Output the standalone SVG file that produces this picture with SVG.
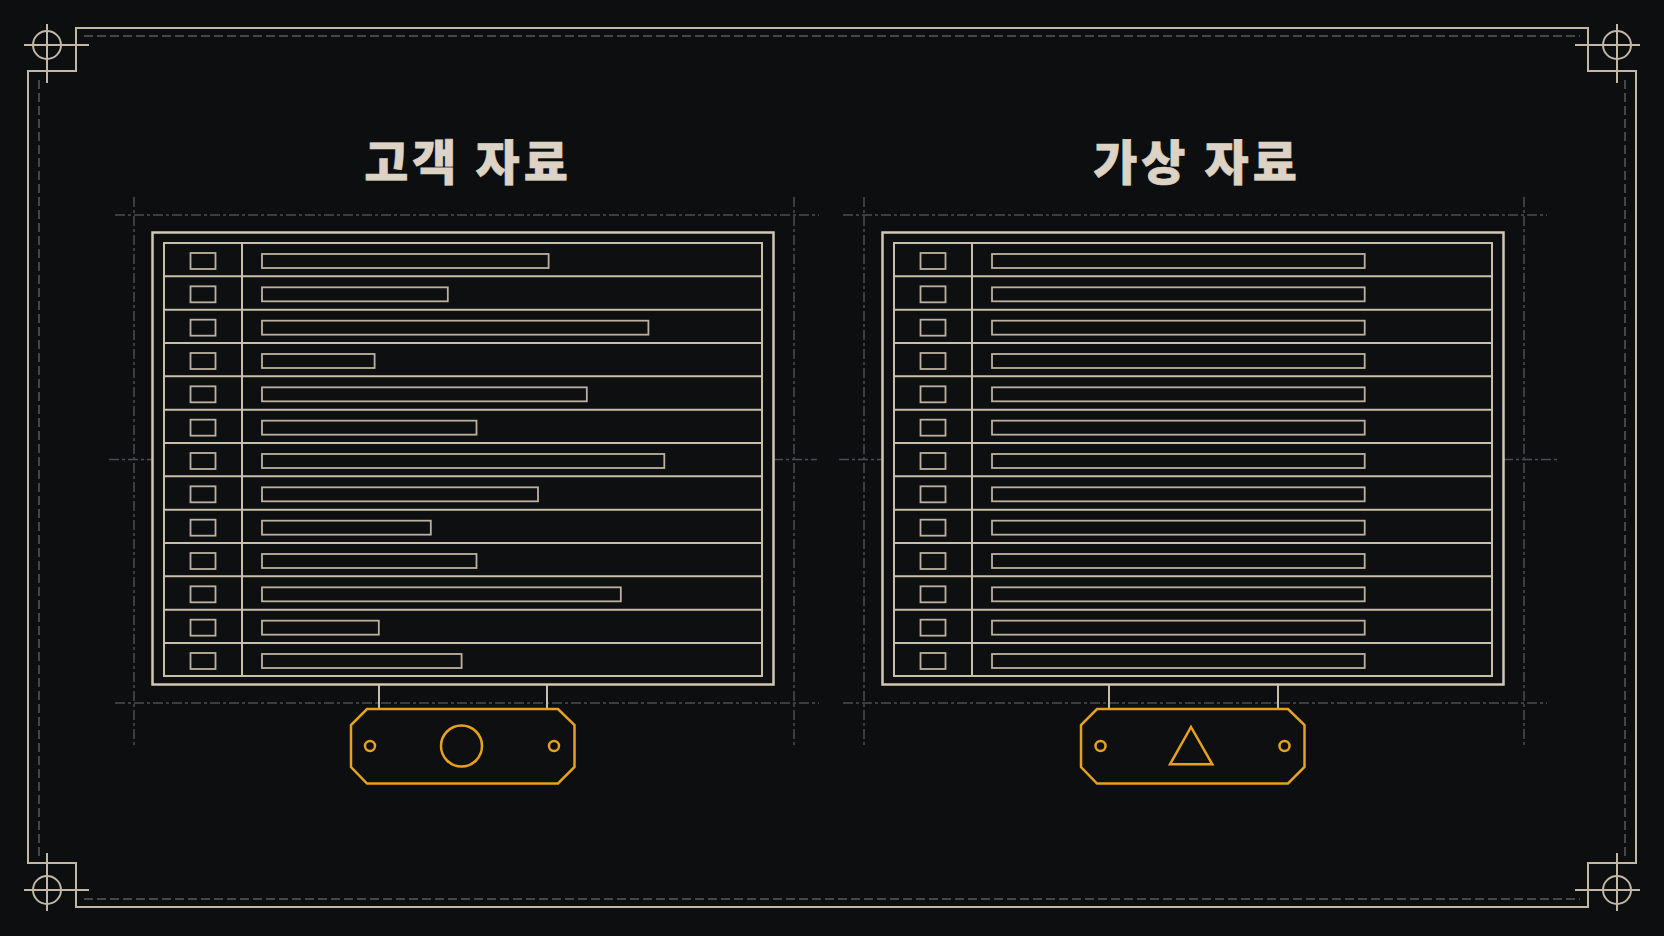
<svg xmlns="http://www.w3.org/2000/svg" width="1664" height="936" viewBox="0 0 1664 936">
  <style>
    .frame{fill:none;stroke:#c2b7a4;stroke-width:2}
    .dash{fill:none;stroke:#5a5a5a;stroke-width:1.5;stroke-dasharray:9 4}
    .guide{fill:none;stroke:#4d4d4f;stroke-width:1.5;stroke-dasharray:10 3 3 3}
    .cross{fill:none;stroke:#c2b7a4;stroke-width:2}
    .tOuter{fill:#0e0f11;stroke:#d2c7b5;stroke-width:2.5}
    .tLine{fill:none;stroke:#c9bea9;stroke-width:2}
    .cell{fill:none;stroke:#bcb19e;stroke-width:1.8}
    .badge{fill:#0e0f11;stroke:#e6a11f;stroke-width:2.5}
    .conn{fill:none;stroke:#c9bea9;stroke-width:2}
    .title{font-family:"Noto Sans CJK KR","Noto Sans",sans-serif;font-weight:900;font-size:48px;letter-spacing:4px;fill:#dcd3c4;text-anchor:middle;stroke:#dcd3c4;stroke-width:0.6}
  </style>
  <rect width="1664" height="936" fill="#0d0e10"/>

  <g id="border">
    <path class="frame" d="M76,28 H1588 V71 H1636 V863 H1588 V907 H76 V863 H28 V71 H76 Z"/>
    <line class="dash" x1="84" y1="36" x2="1580" y2="36"/>
    <line class="dash" x1="84" y1="899" x2="1580" y2="899"/>
    <line class="dash" x1="39" y1="80" x2="39" y2="856"/>
    <line class="dash" x1="1625" y1="80" x2="1625" y2="856"/>
    <g class="cross">
      <circle cx="47" cy="45" r="14"/><path d="M24,45 H89 M47,24 V83"/>
      <circle cx="1617" cy="45" r="14"/><path d="M1575,45 H1640 M1617,24 V83"/>
      <circle cx="47" cy="890" r="14"/><path d="M24,890 H89 M47,853 V911"/>
      <circle cx="1617" cy="890" r="14"/><path d="M1575,890 H1640 M1617,853 V911"/>
    </g>
  </g>

  <g id="guides">
    <path class="guide" d="M115,215 H819 M115,703 H819 M134,197 V745 M794,197 V745 M109,459.5 H152 M773,459.5 H817"/>
    <path class="guide" d="M843,215 H1547 M843,703 H1547 M864,197 V745 M1524,197 V745 M839,459.5 H883 M1503,459.5 H1560"/>
  </g>

  <text id="title-left" class="title" x="468" y="180">고객 자료</text>
  <text id="title-right" class="title" x="1197" y="180">가상 자료</text>

  <g id="table-left">
    <rect class="tOuter" x="152.5" y="232.5" width="621" height="452"/>
    <rect class="tLine" x="164" y="243" width="598" height="433"/>
    <path class="tLine" d="M242,243 V676 M164,276.33 H762 M164,309.67 H762 M164,343 H762 M164,376.33 H762 M164,409.67 H762 M164,443 H762 M164,476.33 H762 M164,509.67 H762 M164,543 H762 M164,576.33 H762 M164,609.67 H762 M164,643 H762"/>
    <g class="cell">
      <rect x="190.5" y="253" width="25" height="16"/>
      <rect x="190.5" y="286.33" width="25" height="16"/>
      <rect x="190.5" y="319.67" width="25" height="16"/>
      <rect x="190.5" y="353" width="25" height="16"/>
      <rect x="190.5" y="386.33" width="25" height="16"/>
      <rect x="190.5" y="419.67" width="25" height="16"/>
      <rect x="190.5" y="453" width="25" height="16"/>
      <rect x="190.5" y="486.33" width="25" height="16"/>
      <rect x="190.5" y="519.67" width="25" height="16"/>
      <rect x="190.5" y="553" width="25" height="16"/>
      <rect x="190.5" y="586.33" width="25" height="16"/>
      <rect x="190.5" y="619.67" width="25" height="16"/>
      <rect x="190.5" y="653" width="25" height="16"/>
      <rect x="262" y="254" width="286.6" height="14"/>
      <rect x="262" y="287.33" width="185.8" height="14"/>
      <rect x="262" y="320.67" width="386.4" height="14"/>
      <rect x="262" y="354" width="112.6" height="14"/>
      <rect x="262" y="387.33" width="324.8" height="14"/>
      <rect x="262" y="420.67" width="214.5" height="14"/>
      <rect x="262" y="454" width="402.3" height="14"/>
      <rect x="262" y="487.33" width="276" height="14"/>
      <rect x="262" y="520.67" width="168.8" height="14"/>
      <rect x="262" y="554" width="214.5" height="14"/>
      <rect x="262" y="587.33" width="358.8" height="14"/>
      <rect x="262" y="620.67" width="116.8" height="14"/>
      <rect x="262" y="654" width="199.6" height="14"/>
    </g>
  </g>

  <g id="table-right">
    <rect class="tOuter" x="882.5" y="232.5" width="621" height="452"/>
    <rect class="tLine" x="894" y="243" width="598" height="433"/>
    <path class="tLine" d="M972,243 V676 M894,276.33 H1492 M894,309.67 H1492 M894,343 H1492 M894,376.33 H1492 M894,409.67 H1492 M894,443 H1492 M894,476.33 H1492 M894,509.67 H1492 M894,543 H1492 M894,576.33 H1492 M894,609.67 H1492 M894,643 H1492"/>
    <g class="cell">
      <rect x="920.5" y="253" width="25" height="16"/>
      <rect x="920.5" y="286.33" width="25" height="16"/>
      <rect x="920.5" y="319.67" width="25" height="16"/>
      <rect x="920.5" y="353" width="25" height="16"/>
      <rect x="920.5" y="386.33" width="25" height="16"/>
      <rect x="920.5" y="419.67" width="25" height="16"/>
      <rect x="920.5" y="453" width="25" height="16"/>
      <rect x="920.5" y="486.33" width="25" height="16"/>
      <rect x="920.5" y="519.67" width="25" height="16"/>
      <rect x="920.5" y="553" width="25" height="16"/>
      <rect x="920.5" y="586.33" width="25" height="16"/>
      <rect x="920.5" y="619.67" width="25" height="16"/>
      <rect x="920.5" y="653" width="25" height="16"/>
      <rect x="992" y="254" width="372.7" height="14"/>
      <rect x="992" y="287.33" width="372.7" height="14"/>
      <rect x="992" y="320.67" width="372.7" height="14"/>
      <rect x="992" y="354" width="372.7" height="14"/>
      <rect x="992" y="387.33" width="372.7" height="14"/>
      <rect x="992" y="420.67" width="372.7" height="14"/>
      <rect x="992" y="454" width="372.7" height="14"/>
      <rect x="992" y="487.33" width="372.7" height="14"/>
      <rect x="992" y="520.67" width="372.7" height="14"/>
      <rect x="992" y="554" width="372.7" height="14"/>
      <rect x="992" y="587.33" width="372.7" height="14"/>
      <rect x="992" y="620.67" width="372.7" height="14"/>
      <rect x="992" y="654" width="372.7" height="14"/>
    </g>
  </g>

  <g id="connectors">
    <path class="conn" d="M379,685 V709 M547,685 V709"/>
    <path class="conn" d="M1109,685 V709 M1278,685 V709"/>
  </g>

  <g id="badge-left">
    <path class="badge" d="M367,709 H558 L574.5,725 V767 L558,783.5 H367 L351,767 V725 Z"/>
    <circle class="badge" cx="461.5" cy="746" r="20.5"/>
    <circle class="badge" cx="370" cy="746" r="5" stroke-width="2"/>
    <circle class="badge" cx="554" cy="746" r="5" stroke-width="2"/>
  </g>

  <g id="badge-right">
    <path class="badge" d="M1097,709 H1288 L1304.5,725 V767 L1288,783.5 H1097 L1081,767 V725 Z"/>
    <path class="badge" d="M1191,727 L1212.3,764.3 H1170 Z"/>
    <circle class="badge" cx="1100.5" cy="746" r="5" stroke-width="2"/>
    <circle class="badge" cx="1284.5" cy="746" r="5" stroke-width="2"/>
  </g>
</svg>
